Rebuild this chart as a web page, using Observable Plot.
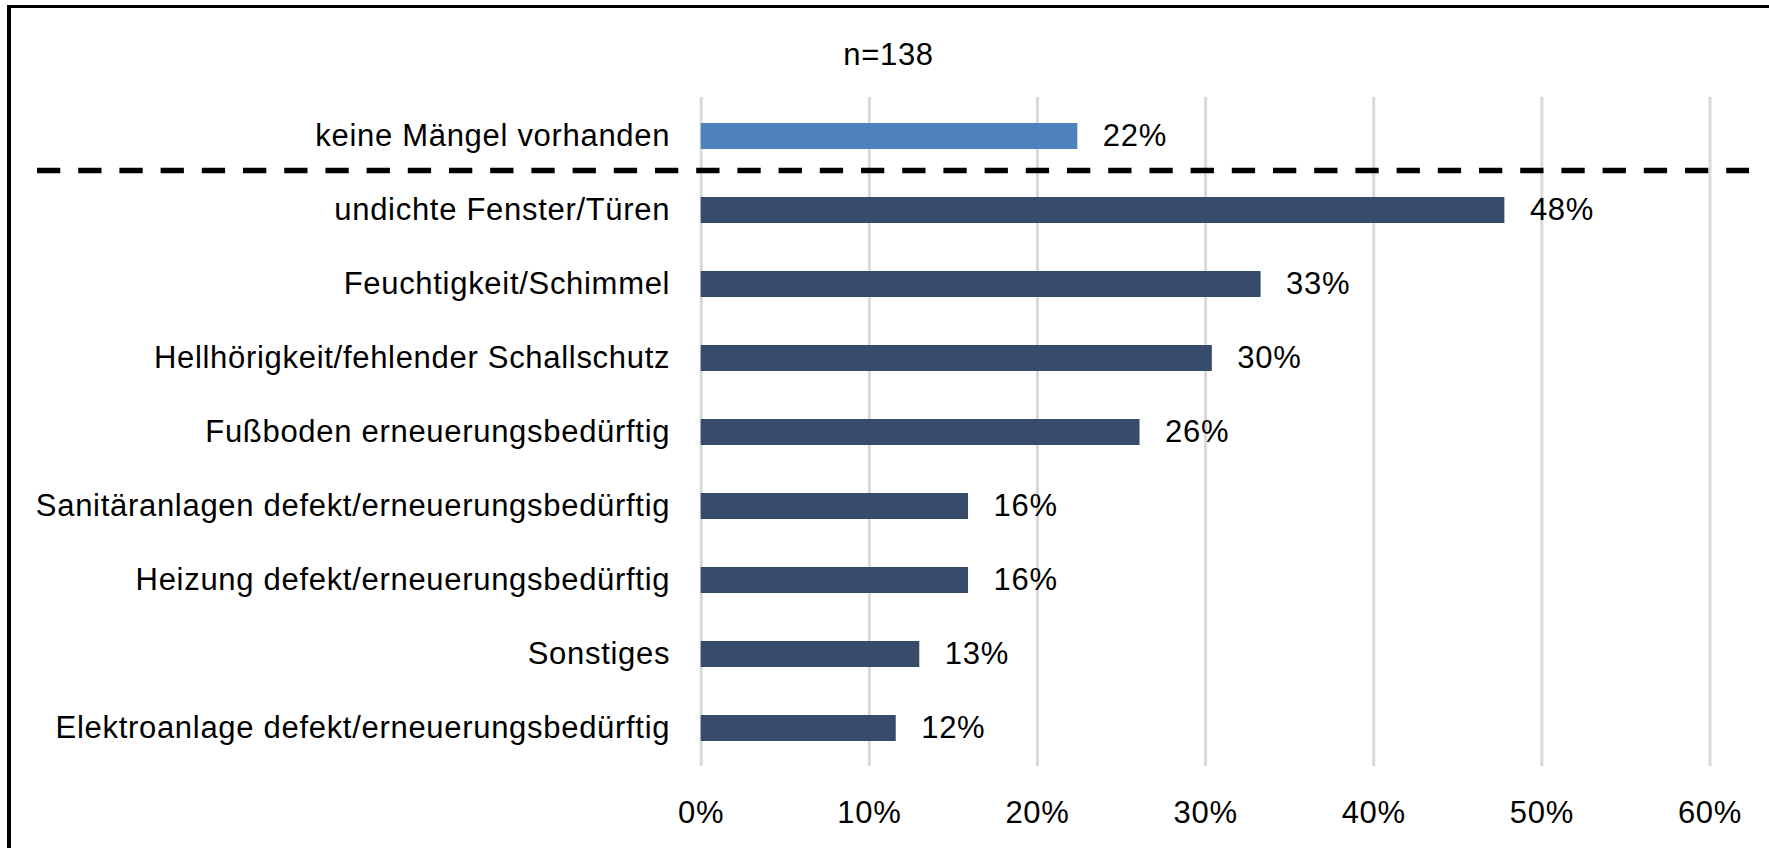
<!DOCTYPE html>
<html>
<head>
<meta charset="utf-8">
<script src="https://cdn.jsdelivr.net/npm/d3@7"></script>
<script src="https://cdn.jsdelivr.net/npm/@observablehq/plot@0.6"></script>
<style>
  html, body { margin: 0; padding: 0; background: #fff; overflow: hidden; }
  #wrap { position: relative; width: 1769px; height: 848px; overflow: hidden; }
  #frame { position: absolute; left: 7px; top: 5px; width: 1900px; height: 1000px;
           border-left: 4px solid #000; border-top: 3px solid #000; pointer-events: none; }
  svg { display: block; }
  svg text { letter-spacing: 0.7px; }
</style>
</head>
<body>
<div id="wrap"><div id="chart"></div><div id="frame"></div></div>
<script>
const title = "n=138";
const categories = [
  "keine Mängel vorhanden",
  "undichte Fenster/Türen",
  "Feuchtigkeit/Schimmel",
  "Hellhörigkeit/fehlender Schallschutz",
  "Fußboden erneuerungsbedürftig",
  "Sanitäranlagen defekt/erneuerungsbedürftig",
  "Heizung defekt/erneuerungsbedürftig",
  "Sonstiges",
  "Elektroanlage defekt/erneuerungsbedürftig"
];
const values = [22.4, 47.8, 33.3, 30.4, 26.1, 15.9, 15.9, 13.0, 11.6];
const groups = ["none", "defect", "defect", "defect", "defect", "defect", "defect", "defect", "defect"];
const xTicks = [0, 10, 20, 30, 40, 50, 60];

const data = categories.map((c, i) => ({category: c, value: values[i], group: groups[i]}));
const font = "'Liberation Sans', Arial, sans-serif";
const fs = 31;

const chart = Plot.plot({
  width: 1769,
  height: 848,
  marginTop: 97,
  marginBottom: 82,
  marginLeft: 37,
  marginRight: 20,
  style: {fontFamily: font, fontSize: fs + "px", color: "#000", background: "#fff"},
  x: {domain: [0, 60], range: [700.7, 1709.5], label: null},
  y: {domain: categories, paddingInner: 0.65, paddingOuter: 0.325, axis: null},
  color: {domain: ["none", "defect"], range: ["#4f81bd", "#374c6a"]},
  marks: [
    Plot.gridX(xTicks, {stroke: "#d9d9d9", strokeOpacity: 1, strokeWidth: 3}),
    Plot.axisX(xTicks, {tickSize: 0, tickPadding: 34, tickFormat: d => d + "%", fontSize: fs, fill: "#000", label: null}),
    Plot.barX(data, {x: "value", y: "category", fill: "group"}),
    Plot.ruleY([categories[0]], {stroke: "#000", strokeWidth: 5.5, strokeDasharray: "23.3,17.9", dy: 34}),
    Plot.text(data, {x: 0, y: "category", text: "category", textAnchor: "end", dx: -31, fontSize: fs, fill: "#000"}),
    Plot.text(data, {x: "value", y: "category", text: d => Math.round(d.value) + "%", textAnchor: "start", dx: 25, fontSize: fs, fill: "#000"}),
    Plot.text([title], {frameAnchor: "top", dy: -42, dx: -5, lineAnchor: "middle", fontSize: fs, fill: "#000"})
  ]
});
document.getElementById("chart").appendChild(chart);
</script>
</body>
</html>
